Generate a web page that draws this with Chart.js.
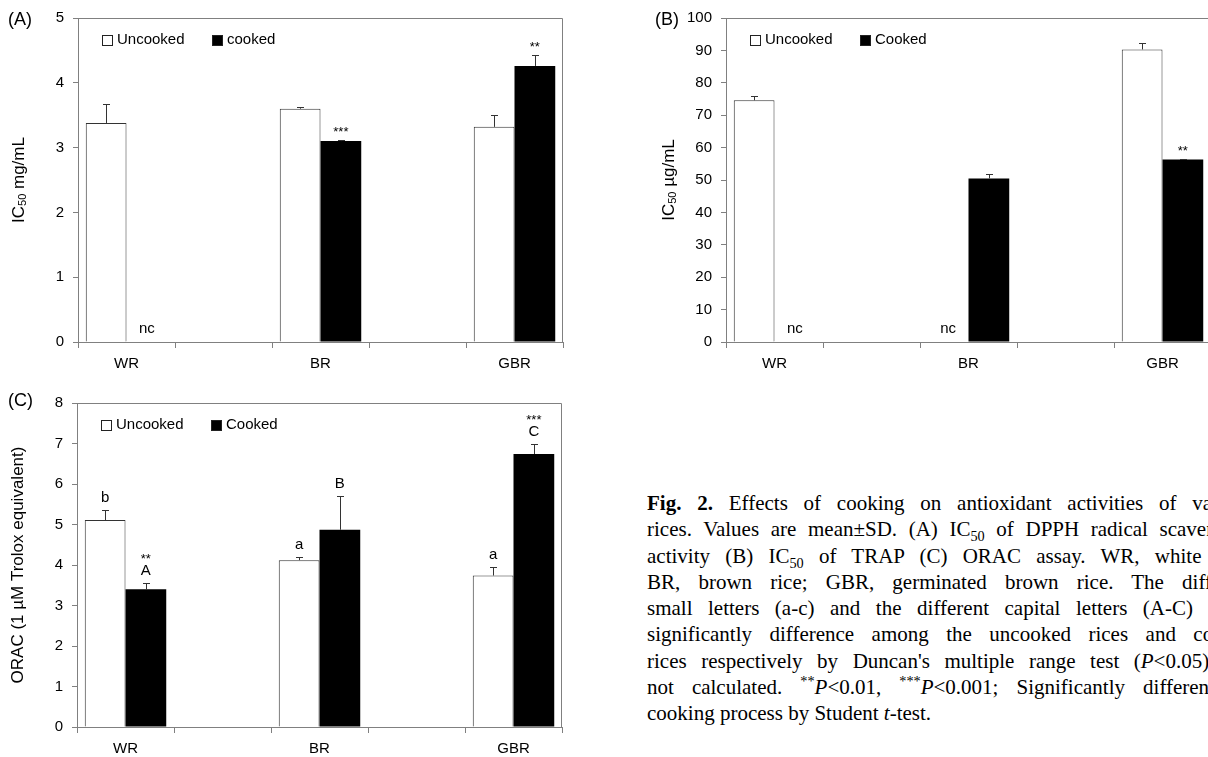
<!DOCTYPE html>
<html lang="en">
<head>
<meta charset="UTF-8" />
<title>Fig. 2. Effects of cooking on antioxidant activities of rices</title>
<script src="https://cdn.jsdelivr.net/npm/chart.js"></script>
<style>
  html, body { margin: 0; padding: 0; background: #fff; }
  #page { position: relative; width: 1208px; height: 757px; overflow: hidden; background: #fff; }
  canvas { position: absolute; }
  #caption {
    position: absolute; left: 647px; top: 490px; width: 607px;
    font-family: "Liberation Serif", "Times New Roman", serif;
    font-size: 21px; line-height: 26.3px; color: #000;
  }
  #caption div { text-align: justify; text-align-last: justify; }
  #caption div.last { text-align-last: left; }
  #caption sub, #caption sup { font-size: 0.68em; line-height: 0; }
</style>
</head>
<body>
<div id="page">
  <canvas id="chartA" width="600" height="385" style="left:0;top:0"></canvas>
  <canvas id="chartB" width="600" height="385" style="left:640px;top:0"></canvas>
  <canvas id="chartC" width="600" height="372" style="left:0;top:385px"></canvas>

  <div id="caption">
    <div><b>Fig. 2.</b> Effects of cooking on antioxidant activities of various</div>
    <div>rices. Values are mean±SD. (A) IC<sub>50</sub> of DPPH radical scavenging</div>
    <div>activity (B) IC<sub>50</sub> of TRAP (C) ORAC assay. WR, white rice;</div>
    <div>BR, brown rice; GBR, germinated brown rice. The different</div>
    <div>small letters (a-c) and the different capital letters (A-C) mean</div>
    <div>significantly difference among the uncooked rices and cooked</div>
    <div>rices respectively by Duncan's multiple range test (<i>P</i>&lt;0.05). nc,</div>
    <div>not calculated. <sup>**</sup><i>P</i>&lt;0.01, <sup>***</sup><i>P</i>&lt;0.001; Significantly different by</div>
    <div class="last">cooking process by Student <i>t</i>-test.</div>
  </div>
</div>

<script>
  // rice types (blank slots are the empty gaps between groups)
  const categories = ['WR', '', 'BR', '', 'GBR'];

  // (A) IC50 of DPPH radical scavenging, mg/mL
  const dpphUncooked   = [3.38, null, 3.60, null, 3.32];
  const dpphUncookedSd = [0.29, null, 0.02, null, 0.19];
  const dpphCooked     = [null, null, 3.10, null, 4.26];
  const dpphCookedSd   = [null, null, 0.02, null, 0.17];
  const dpphCookedNote = ['nc', '', '', '', ''];
  const dpphCookedStar = ['', '', '***', '', '**'];
  const dpphTicks = [0, 1, 2, 3, 4, 5];

  // (B) IC50 of TRAP, ug/mL
  const trapUncooked     = [74.6, null, null, null, 90.3];
  const trapUncookedSd   = [1.3, null, null, null, 1.9];
  const trapUncookedNote = ['', '', 'nc', '', ''];
  const trapCooked       = [null, null, 50.5, null, 56.3];
  const trapCookedSd     = [null, null, 1.4, null, 0.3];
  const trapCookedNote   = ['nc', '', '', '', ''];
  const trapCookedStar   = ['', '', '', '', '**'];
  const trapTicks = [0, 10, 20, 30, 40, 50, 60, 70, 80, 90, 100];

  // (C) ORAC, 1 uM Trolox equivalent
  const oracUncooked     = [5.11, null, 4.12, null, 3.74];
  const oracUncookedSd   = [0.25, null, 0.08, null, 0.20];
  const oracUncookedNote = ['b', '', 'a', '', 'a'];
  const oracCooked       = [3.40, null, 4.87, null, 6.74];
  const oracCookedSd     = [0.16, null, 0.83, null, 0.25];
  const oracCookedNote   = ['A', '', 'B', '', 'C'];
  const oracCookedStar   = ['**', '', '', '', '***'];
  const oracTicks = [0, 1, 2, 3, 4, 5, 6, 7, 8];

  const SANS = '"Liberation Sans", Arial, sans-serif';
  const AXIS = '#808080';

  // error bars (upper half only) plus letters / asterisks / "nc"
  const barExtras = {
    id: 'barExtras',
    afterDatasetsDraw(chart) {
      const ctx = chart.ctx;
      const y = chart.scales.y;
      ctx.save();
      ctx.fillStyle = '#000';
      ctx.textAlign = 'center';
      ctx.textBaseline = 'alphabetic';
      chart.data.datasets.forEach((ds, di) => {
        const meta = chart.getDatasetMeta(di);
        meta.data.forEach((bar, i) => {
          const v = ds.data[i];
          const bx = bar.x;
          const note = ds.notes ? ds.notes[i] : '';
          const star = ds.stars ? ds.stars[i] : '';
          if (v == null) {
            if (note === 'nc') {
              ctx.font = '15px ' + SANS;
              ctx.fillText('nc', bx, y.getPixelForValue(0) - 9);
            }
            return;
          }
          const sd = ds.sd ? (ds.sd[i] || 0) : 0;
          const top = Math.round(y.getPixelForValue(v + sd)) + 0.5;
          const cx = Math.round(bx) + 0.5;
          ctx.strokeStyle = '#333';
          ctx.lineWidth = 1;
          ctx.beginPath();
          ctx.moveTo(cx, bar.y);
          ctx.lineTo(cx, top);
          ctx.moveTo(cx - 3.5, top);
          ctx.lineTo(cx + 3.5, top);
          ctx.stroke();
          let base;
          if (note) {
            base = top - 9;
            ctx.font = '15px ' + SANS;
            ctx.fillText(note, bx, base);
            base -= 12;
          } else {
            base = top - 5;
          }
          if (star) {
            ctx.font = '13px ' + SANS;
            ctx.fillText(star, bx, base);
          }
        });
      });
      ctx.restore();
    }
  };

  // frame, panel letter, legend inside the plot, y title with subscript
  const decor = {
    id: 'decor',
    afterDraw(chart, args, o) {
      const ctx = chart.ctx;
      const a = chart.chartArea;
      ctx.save();
      ctx.strokeStyle = AXIS;
      ctx.lineWidth = 1;
      ctx.beginPath();
      ctx.moveTo(a.left, a.top + 0.5);
      ctx.lineTo(Math.round(a.right) - 0.5, a.top + 0.5);
      ctx.lineTo(Math.round(a.right) - 0.5, a.bottom);
      ctx.stroke();

      ctx.fillStyle = '#000';
      ctx.font = '18px ' + SANS;
      ctx.textAlign = 'left';
      ctx.textBaseline = 'middle';
      ctx.fillText(o.panel, o.panelX, o.panelY);

      // legend
      let x = Math.round(a.left + 24);
      const ly = Math.round(a.top + 22);
      ctx.font = '15px ' + SANS;
      chart.data.datasets.forEach(ds => {
        ctx.fillStyle = ds.backgroundColor;
        ctx.fillRect(x, ly - 5, 11, 11);
        ctx.strokeStyle = '#222';
        ctx.strokeRect(x + 0.5, ly - 4.5, 10, 10);
        ctx.fillStyle = '#000';
        ctx.fillText(ds.label, x + 15, ly);
        x += Math.round(15 + ctx.measureText(ds.label).width + 27);
      });

      // rotated axis title
      ctx.translate(o.titleX, (a.top + a.bottom) / 2);
      ctx.rotate(-Math.PI / 2);
      let total = 0;
      o.title.forEach(p => { ctx.font = p[1] + 'px ' + SANS; total += ctx.measureText(p[0]).width; });
      let tx = -total / 2;
      o.title.forEach(p => {
        ctx.font = p[1] + 'px ' + SANS;
        ctx.fillText(p[0], tx, p[2] || 0);
        tx += ctx.measureText(p[0]).width;
      });
      ctx.restore();
    }
  };

  function buildChart(id, c) {
    return new Chart(document.getElementById(id), {
      type: 'bar',
      data: {
        labels: categories,
        datasets: [
          {
            label: c.names[0], data: c.uncooked, sd: c.uncookedSd,
            notes: c.uncookedNote, stars: c.uncookedStar,
            backgroundColor: '#ffffff', borderColor: '#333', borderWidth: 1, borderSkipped: 'start',
            categoryPercentage: 0.84, barPercentage: 1
          },
          {
            label: c.names[1], data: c.cooked, sd: c.cookedSd,
            notes: c.cookedNote, stars: c.cookedStar,
            backgroundColor: '#000000', borderColor: '#000', borderWidth: 0,
            categoryPercentage: 0.84, barPercentage: 1
          }
        ]
      },
      options: {
        responsive: false,
        animation: false,
        layout: { padding: c.padding },
        plugins: {
          legend: { display: false },
          tooltip: { enabled: false },
          decor: c.decor
        },
        scales: {
          x: {
            grid: { display: true, drawOnChartArea: false, drawTicks: true, tickLength: 6, color: AXIS, offset: true },
            border: { display: true, color: AXIS, width: 1 },
            ticks: { color: '#000', font: { family: SANS, size: 15 }, padding: 7, autoSkip: false, maxRotation: 0 },
            afterFit: s => { s.height = c.xHeight; }
          },
          y: {
            min: c.ticks[0], max: c.ticks[c.ticks.length - 1],
            grid: { drawOnChartArea: false, drawTicks: true, tickLength: 5, color: AXIS },
            border: { display: true, color: AXIS, width: 1 },
            ticks: { color: '#000', font: { family: SANS, size: 15 }, padding: 9 },
            afterBuildTicks: s => { s.ticks = c.ticks.map(v => ({ value: v })); },
            afterFit: s => { s.width = c.yWidth; }
          }
        }
      },
      plugins: [barExtras, decor]
    });
  }

  buildChart('chartA', {
    names: ['Uncooked', 'cooked'],
    uncooked: dpphUncooked, uncookedSd: dpphUncookedSd,
    cooked: dpphCooked, cookedSd: dpphCookedSd, cookedNote: dpphCookedNote, cookedStar: dpphCookedStar,
    ticks: dpphTicks,
    padding: { top: 17, right: 37, bottom: 0, left: 0 },
    yWidth: 78, xHeight: 43,
    decor: { panel: '(A)', panelX: 8, panelY: 20, titleX: 19, title: [['IC', 17], ['50', 11, 4], [' mg/mL', 17]] }
  });

  buildChart('chartB', {
    names: ['Uncooked', 'Cooked'],
    uncooked: trapUncooked, uncookedSd: trapUncookedSd, uncookedNote: trapUncookedNote,
    cooked: trapCooked, cookedSd: trapCookedSd, cookedNote: trapCookedNote, cookedStar: trapCookedStar,
    ticks: trapTicks,
    padding: { top: 17, right: 29, bottom: 0, left: 0 },
    yWidth: 86, xHeight: 43,
    decor: { panel: '(B)', panelX: 15, panelY: 20, titleX: 29, title: [['IC', 17], ['50', 11, 4], [' µg/mL', 17]] }
  });

  buildChart('chartC', {
    names: ['Uncooked', 'Cooked'],
    uncooked: oracUncooked, uncookedSd: oracUncookedSd, uncookedNote: oracUncookedNote,
    cooked: oracCooked, cookedSd: oracCookedSd, cookedNote: oracCookedNote, cookedStar: oracCookedStar,
    ticks: oracTicks,
    padding: { top: 16, right: 38, bottom: 0, left: 0 },
    yWidth: 77, xHeight: 30,
    decor: { panel: '(C)', panelX: 8, panelY: 16, titleX: 18, title: [['ORAC (1 µM Trolox equivalent)', 17]] }
  });
</script>
</body>
</html>
